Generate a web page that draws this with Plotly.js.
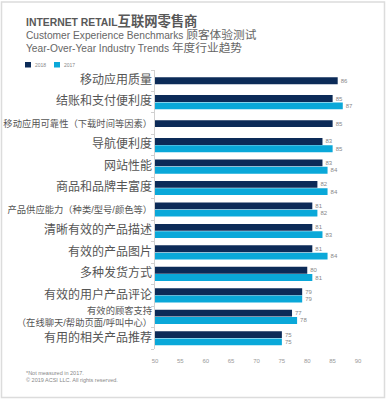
<!DOCTYPE html>
<html>
<head>
<meta charset="utf-8">
<script src="https://cdn.plot.ly/plotly-3.0.1.min.js"></script>
<style>
  html, body { margin: 0; padding: 0; background: #fff; }
  #chart { width: 386px; height: 400px; }
</style>
</head>
<body>
<div id="chart"></div>
<script>
// ---- data ----
const categories = [
  '移动应用质量',
  '结账和支付便利度',
  '移动应用可靠性（下载时间等因素）',
  '导航便利度',
  '网站性能',
  '商品和品牌丰富度',
  '产品供应能力（种类/型号/颜色等）',
  '清晰有效的产品描述',
  '有效的产品图片',
  '多种发货方式',
  '有效的用户产品评论',
  '有效的顾客支持<br>（在线聊天/帮助页面/呼叫中心）',
  '有用的相关产品推荐'
];
const values2018 = [86, 85, 85, 83, 83, 82, 81, 81, 81, 80, 79, 77, 75];
const values2017 = [null, 87, null, 85, 84, 84, 82, 83, 84, 81, 79, 78, 75];
const seriesNames = ['2018', '2017'];
const xTickVals = [50, 55, 60, 65, 70, 75, 80, 85, 90];
const titleLatin = 'INTERNET RETAIL';
const titleCJK = '互联网零售商';
const sub1Latin = 'Customer Experience Benchmarks';
const sub1CJK = '顾客体验测试';
const sub2Latin = 'Year-Over-Year Industry Trends';
const sub2CJK = '年度行业趋势';
const footnotes = ['*Not measured in 2017.', '© 2019 ACSI LLC. All rights reserved.'];

// ---- styling ----
const W = 386, H = 400;
const M = { l: 155, r: 28, t: 70, b: 51 };
const PW = W - M.l - M.r, PH = H - M.t - M.b;
const px = p => (p - M.l) / PW;
const py = p => 1 - (p - M.t) / PH;
const FONT = '"Liberation Sans", Arial, "Noto Sans CJK SC", sans-serif';
const C18 = '#0c2b58';
const C17 = '#0aa8d9';
const BW = 0.32;

const tickText = categories.map(c => {
  const plain = c.replace(/<br>/g, '');
  const size = plain.length > 10 ? 9.3 : 12;
  return c.split('<br>').map(s => `<span style="font-size:${size}px">${s}</span>`).join('<br>');
});

const off18 = values2017.map(v => v == null ? -BW / 2 : -BW - 0.01);

const traces = [
  {
    type: 'bar', orientation: 'h', name: seriesNames[0],
    y: categories, x: values2018,
    width: BW, offset: off18,
    marker: { color: C18 },
    text: values2018.map(String), textposition: 'outside',
    textfont: { size: 6, color: '#888', family: FONT },
    constraintext: 'none', cliponaxis: false, hoverinfo: 'skip'
  },
  {
    type: 'bar', orientation: 'h', name: seriesNames[1],
    y: categories, x: values2017,
    width: BW, offset: 0.01,
    marker: { color: C17 },
    text: values2017.map(v => v == null ? '' : String(v)), textposition: 'outside',
    textfont: { size: 6, color: '#888', family: FONT },
    constraintext: 'none', cliponaxis: false, hoverinfo: 'skip'
  }
];

const ann = (x, y, text, size, color) => ({
  xref: 'paper', yref: 'paper', x: px(x), y: py(y),
  xanchor: 'left', yanchor: 'middle', showarrow: false,
  text, font: { family: FONT, size, color }
});

const annotations = [
  ann(24, 21, `<b>${titleLatin}</b><span style="font-size:13.3px"><b>${titleCJK}</b></span>`, 10.4, '#585858'),
  ann(24, 34.5, `${sub1Latin} <span style="font-size:11.7px">${sub1CJK}</span>`, 10.2, '#666'),
  ann(24, 47.5, `${sub2Latin} <span style="font-size:11.7px">${sub2CJK}</span>`, 10.2, '#666'),
  ann(33, 64.5, seriesNames[0], 5, '#888'),
  ann(62, 64.5, seriesNames[1], 5, '#888'),
  ann(24, 373, footnotes[0], 5.5, '#888'),
  ann(24, 379.5, footnotes[1], 5.5, '#888')
];

const rect = (x0, y0, x1, y1, fill, line) => ({
  type: 'rect', xref: 'paper', yref: 'paper',
  x0: px(x0), x1: px(x1), y0: py(y0), y1: py(y1),
  fillcolor: fill, line: line
});

const shapes = [
  rect(1.5, 2, 384.5, 397.5, 'rgba(0,0,0,0)', { color: '#dcdcdc', width: 1.5 }),
  rect(25, 62, 31, 67.5, C18, { width: 0 }),
  rect(54, 62, 60, 67.5, C17, { width: 0 })
];

const layout = {
  width: W, height: H,
  margin: M,
  paper_bgcolor: '#fff', plot_bgcolor: '#fff',
  showlegend: false,
  barmode: 'overlay',
  font: { family: FONT, color: '#555' },
  xaxis: {
    range: [50, 90], tickvals: xTickVals,
    showgrid: false, zeroline: false, showline: false,
    ticks: 'outside', ticklen: 6, tickcolor: 'rgba(0,0,0,0)',
    tickfont: { size: 6, color: '#999', family: FONT },
    fixedrange: true
  },
  yaxis: {
    type: 'category', autorange: 'reversed',
    tickvals: categories, ticktext: tickText,
    showgrid: false, zeroline: false,
    showline: true, linecolor: '#d0d0d0', linewidth: 1,
    ticks: 'outside', tickson: 'boundaries', ticklen: 3, tickcolor: '#d0d0d0',
    tickfont: { size: 9.3, color: '#555', family: FONT },
    fixedrange: true
  },
  annotations, shapes
};

Plotly.newPlot('chart', traces, layout, { displayModeBar: false, staticPlot: true });
</script>
</body>
</html>
